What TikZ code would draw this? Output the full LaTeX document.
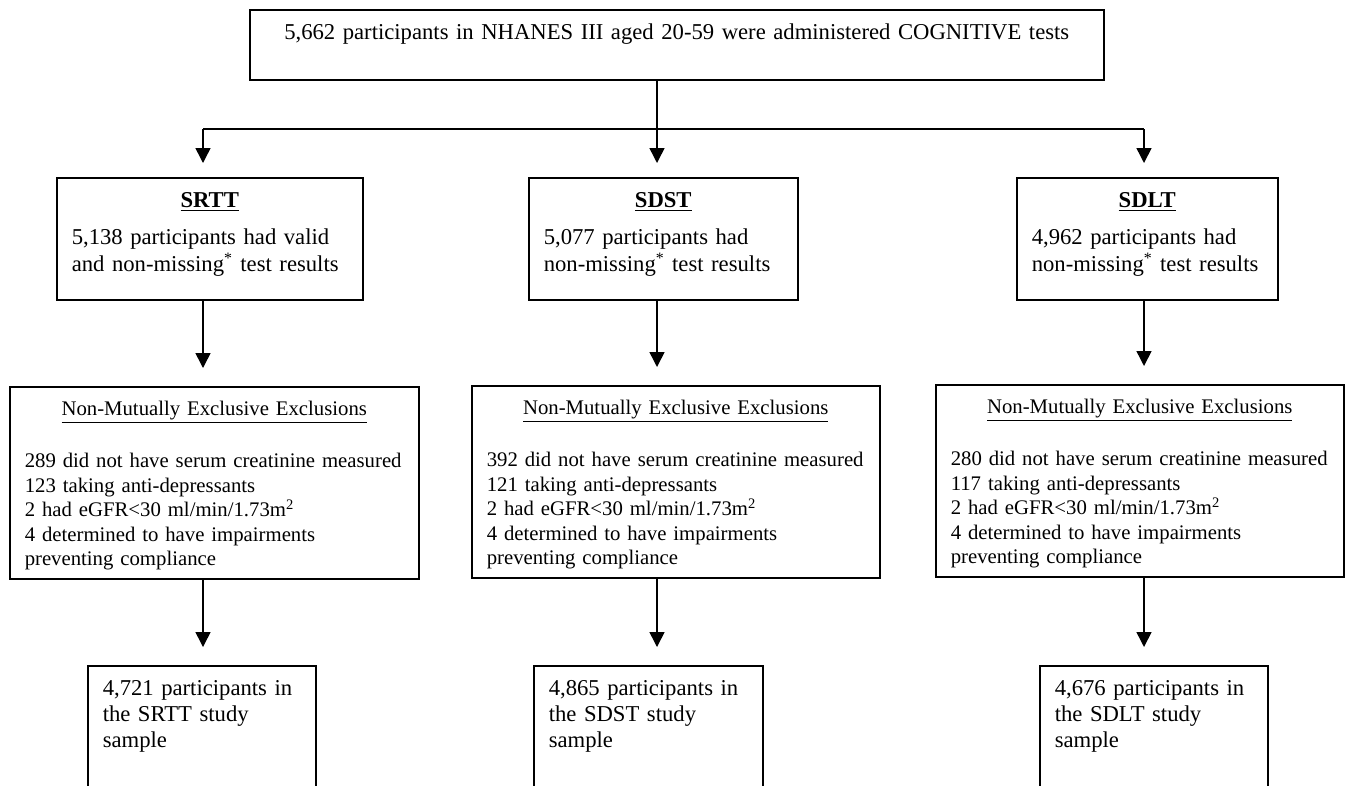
\documentclass[tikz,border=0pt]{standalone}
\usepackage{fontspec}
\setmainfont{Liberation Serif}
\usetikzlibrary{positioning, arrows.meta}
\tikzset{every node/.append style={execute at begin node={\hyphenpenalty=10000\exhyphenpenalty=10000\relax}}}

\begin{document}
\begin{tikzpicture}[x=0.6pt, y=-0.6pt, line width=0.9pt, >={Triangle[length=9pt, width=9pt]},
  box/.style={draw, anchor=north west, inner sep=0pt, align=left, text height=18pt},
  test/.style={box, text depth=55.2pt, font=\fontsize{13.6}{16.2}\selectfont},
  excl/.style={box, text height=17.4pt, text depth=97.8pt, font=\fontsize{12.45}{14.7}\selectfont},
  smpl/.style={box, text depth=57pt, font=\fontsize{13.6}{15.6}\selectfont}]
  \useasboundingbox (0,0) rectangle (1349,785);
  \node[box, minimum width=512.4pt, text width=512.4pt, align=center, text depth=24pt,
    font=\fontsize{13.6}{16}\selectfont] (top) at (249,9)
    {5,662 participants in NHANES III aged 20-59 were administered COGNITIVE tests};

  \node[test, minimum width=183.6pt, text width=165.6pt] (srtt) at (56,177)
    {\makebox[\linewidth]{\underline{\textbf{SRTT}}}\\[6pt] 5,138 participants had valid\\ and non-missing\textsuperscript{*} test results};
  \node[test, minimum width=161.4pt, text width=143.4pt] (sdst) at (528,177)
    {\makebox[\linewidth]{\underline{\textbf{SDST}}}\\[6pt] 5,077 participants had\\ non-missing\textsuperscript{*} test results};
  \node[test, minimum width=156.6pt, text width=138.6pt] (sdlt) at (1016,177)
    {\makebox[\linewidth]{\underline{\textbf{SDLT}}}\\[6pt] 4,962 participants had\\ non-missing\textsuperscript{*} test results};

  \node[excl, minimum width=245.4pt, text width=227.4pt] (srttx) at (9,386)
    {\makebox[\linewidth]{\underline{Non-Mutually Exclusive Exclusions}}\\[16.5pt]
     289 did not have serum creatinine measured\\ 123 taking anti-depressants\\
     2 had eGFR<30 ml/min/1.73m\textsuperscript{2}\\ 4 determined to have impairments\\ preventing compliance};
  \node[excl, minimum width=244.8pt, text width=226.8pt] (sdstx) at (471,385)
    {\makebox[\linewidth]{\underline{Non-Mutually Exclusive Exclusions}}\\[16.5pt]
     392 did not have serum creatinine measured\\ 121 taking anti-depressants\\
     2 had eGFR<30 ml/min/1.73m\textsuperscript{2}\\ 4 determined to have impairments\\ preventing compliance};
  \node[excl, minimum width=244.8pt, text width=226.8pt] (sdltx) at (935,384)
    {\makebox[\linewidth]{\underline{Non-Mutually Exclusive Exclusions}}\\[16.5pt]
     280 did not have serum creatinine measured\\ 117 taking anti-depressants\\
     2 had eGFR<30 ml/min/1.73m\textsuperscript{2}\\ 4 determined to have impairments\\ preventing compliance};

  \node[smpl, minimum width=136.8pt, text width=118.8pt] (srtts) at (87,665)
    {4,721 participants in\\ the SRTT study\\ sample};
  \node[smpl, minimum width=137.4pt, text width=119.4pt] (sdsts) at (533,665)
    {4,865 participants in\\ the SDST study\\ sample};
  \node[smpl, minimum width=136.8pt, text width=118.8pt] (sdlts) at (1039,665)
    {4,676 participants in\\ the SDLT study\\ sample};

  \coordinate (b1) at (203,129);
  \coordinate (b2) at (657,129);
  \coordinate (b3) at (1144,129);
  \draw (b2 |- top.south) -- (b2);
  \draw (b1) -- (b3);
  \foreach \a/\b/\c/\x in {srtt/srttx/srtts/b1, sdst/sdstx/sdsts/b2, sdlt/sdltx/sdlts/b3} {
    \draw[->, shorten >=8.4pt] (\x) -- (\x |- \a.north);
    \draw[->, shorten >=10.8pt] (\x |- \a.south) -- (\x |- \b.north);
    \draw[->, shorten >=10.8pt] (\x |- \b.south) -- (\x |- \c.north);
  }
\end{tikzpicture}
\end{document}
